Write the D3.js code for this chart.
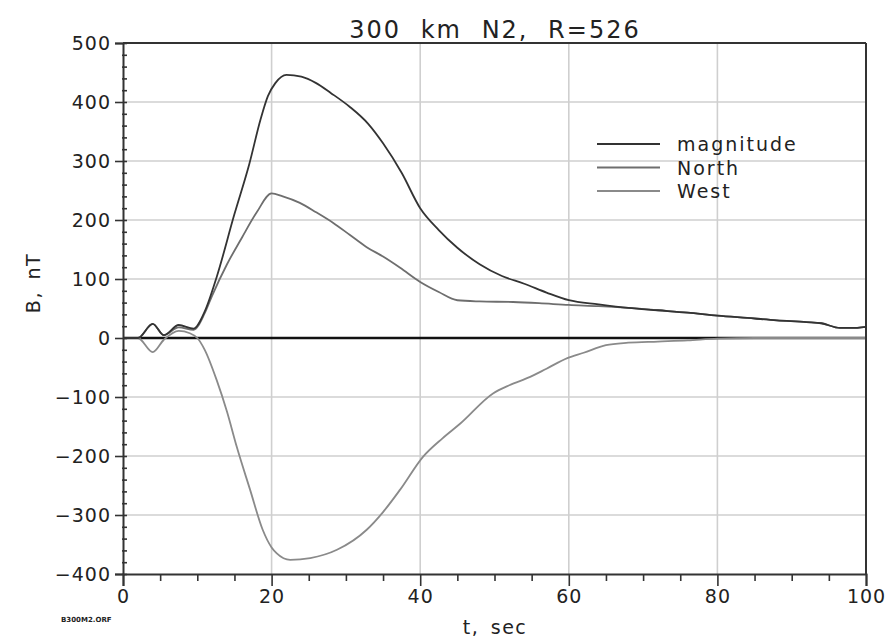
<!DOCTYPE html>
<html>
<head>
<meta charset="utf-8">
<script src="https://cdn.jsdelivr.net/npm/d3@7"></script>
<style>
  body { margin: 0; background: #fff; }
  text { font-family: "DejaVu Sans", sans-serif; fill: #222; }
</style>
</head>
<body>
<script>
var svgWidth = 891;
var svgHeight = 641;

// magnitude
var tMag = [0, 2, 4, 5.5, 7.5, 9.5, 11, 12.6, 15, 17, 18.5, 19.5, 20.5, 22, 24, 26, 28, 30.5, 33, 35, 37.5, 40, 42.5, 45, 48, 51, 54, 57, 60, 64, 68, 72, 76, 80, 84, 88, 92, 94, 96.5, 98, 100];
var magnitude = [0, 0, 24, 5, 22, 16, 45, 103, 210, 295, 370, 410, 432, 446, 443, 432, 415, 392, 363, 330, 280, 220, 183, 153, 125, 105, 92, 77, 64, 57, 51, 47, 43, 38, 34, 30, 27, 25, 17, 17, 19];

var tNorth = [0, 2, 4, 5.5, 7.5, 9.5, 11, 12, 14, 16, 18, 20, 21.5, 23.8, 26, 28.3, 30.5, 32.8, 35, 37.3, 40, 42.5, 45, 48, 52.5, 56, 60, 64, 68, 72, 76, 80, 84, 88, 92, 94, 96.5, 98, 100];
var north = [0, 0, 24, 5, 18, 14, 42, 72, 125, 170, 213, 245, 240, 229, 213, 195, 175, 154, 138, 119, 95, 78, 64, 62, 61, 59, 56, 54, 51, 47, 43, 38, 34, 30, 27, 25, 17, 17, 19];

var tWest = [0, 2, 4, 5.5, 7.5, 9, 10, 11, 12.6, 14, 15.3, 17.1, 18.8, 20, 20.7, 22.5, 25.2, 28.8, 32.8, 35, 37.3, 40.4, 43, 45.4, 49.8, 52, 54.8, 57, 59.8, 62, 65, 68, 72, 76, 80, 85, 100];
var west = [0, 0, -24, -3, 12, 8, 0, -20, -71, -125, -184, -257, -325, -355, -365, -376, -373, -359, -325, -295, -257, -201, -170, -145, -94, -80, -66, -52, -34, -25, -12, -8, -6, -4, -1, 0, 0];

var seriesNames = ["magnitude", "North", "West"];
var seriesColors = ["#333333", "#6e6e6e", "#8a8a8a"];

var xTicks = [0, 20, 40, 60, 80, 100];
var yTicks = [500, 400, 300, 200, 100, 0, -100, -200, -300, -400];

var x = d3.scaleLinear()
    .domain([0, 100])
    .range([123, 866]);

var y = d3.scaleLinear()
    .domain([-400, 500])
    .range([574, 43]);

var svg = d3.select("body")
    .append("svg")
    .attr("width", svgWidth)
    .attr("height", svgHeight);

// grid
svg.append("g")
    .selectAll("line")
    .data(xTicks.slice(1, -1)).enter()
    .append("line")
    .attr("x1", d => x(d)).attr("x2", d => x(d))
    .attr("y1", y(500)).attr("y2", y(-400))
    .attr("stroke", "#cfcfcf")
    .attr("stroke-width", 1.6);

svg.append("g")
    .selectAll("line")
    .data(yTicks.slice(1, -1)).enter()
    .append("line")
    .attr("x1", x(0)).attr("x2", x(100))
    .attr("y1", d => y(d)).attr("y2", d => y(d))
    .attr("stroke", "#cfcfcf")
    .attr("stroke-width", 1.6);

// zero line
svg.append("line")
    .attr("x1", x(0)).attr("x2", x(100))
    .attr("y1", y(0)).attr("y2", y(0))
    .attr("stroke", "#111")
    .attr("stroke-width", 2.6);

// curves
var line = d3.line()
    .x(d => x(d[0]))
    .y(d => y(d[1]))
    .curve(d3.curveMonotoneX);

var curves = [
    d3.zip(tWest, west),
    d3.zip(tNorth, north),
    d3.zip(tMag, magnitude)
];
var curveColors = [seriesColors[2], seriesColors[1], seriesColors[0]];

svg.append("g")
    .selectAll("path")
    .data(curves).enter()
    .append("path")
    .attr("d", line)
    .attr("fill", "none")
    .attr("stroke", (d, i) => curveColors[i])
    .attr("stroke-width", 1.8);

// axes
var xAxis = d3.axisBottom(x)
    .tickValues(xTicks)
    .tickSize(12)
    .tickPadding(4)
    .tickFormat(d3.format("d"));

var xMinor = d3.axisBottom(x)
    .tickValues(d3.range(0, 101, 5).filter(d => d % 20 !== 0))
    .tickSize(7)
    .tickFormat("");

var yAxis = d3.axisLeft(y)
    .tickValues(yTicks)
    .tickSize(8)
    .tickPadding(4)
    .tickFormat(d3.format("d"));

var yMinor = d3.axisLeft(y)
    .tickValues(d3.range(-400, 501, 20).filter(d => d % 100 !== 0))
    .tickSize(5)
    .tickFormat("");

var gx = svg.append("g").attr("transform", "translate(0," + y(-400) + ")").call(xAxis);
svg.append("g").attr("transform", "translate(0," + y(-400) + ")").call(xMinor)
    .call(g => g.select(".domain").remove());
var gy = svg.append("g").attr("transform", "translate(" + x(0) + ",0)").call(yAxis);
svg.append("g").attr("transform", "translate(" + (x(0) + 4) + ",0)").call(yMinor)
    .call(g => g.select(".domain").remove());

svg.selectAll(".domain").attr("stroke", "#333").attr("stroke-width", 2);
svg.selectAll(".tick line").attr("stroke", "#333").attr("stroke-width", 1.6);
gx.selectAll("text").style("font-size", "19px").attr("fill", "#222").attr("letter-spacing", 1);
gy.selectAll("text").style("font-size", "19px").attr("fill", "#222").attr("letter-spacing", 1);
gy.selectAll(".tick line").attr("x2", 4).attr("x1", -8);

// frame top and right
svg.append("line")
    .attr("x1", x(0)).attr("x2", x(100))
    .attr("y1", y(500)).attr("y2", y(500))
    .attr("stroke", "#333").attr("stroke-width", 2);
svg.append("line")
    .attr("x1", x(100)).attr("x2", x(100))
    .attr("y1", y(500)).attr("y2", y(-400))
    .attr("stroke", "#333").attr("stroke-width", 2);

// title and labels
svg.append("text")
    .attr("x", 495).attr("y", 38)
    .attr("text-anchor", "middle")
    .style("font-size", "24px")
    .attr("letter-spacing", 2)
    .attr("word-spacing", 10)
    .text("300 km N2, R=526");

svg.append("text")
    .attr("x", 495).attr("y", 634)
    .attr("text-anchor", "middle")
    .style("font-size", "19px")
    .attr("letter-spacing", 1.5)
    .attr("word-spacing", 4)
    .text("t, sec");

svg.append("text")
    .attr("transform", "translate(40,283) rotate(-90)")
    .attr("text-anchor", "middle")
    .style("font-size", "19px")
    .attr("letter-spacing", 1.5)
    .attr("word-spacing", 4)
    .text("B, nT");

svg.append("text")
    .attr("x", 61).attr("y", 622)
    .style("font-size", "7px")
    .style("font-weight", "bold")
    .text("B300M2.ORF");

// legend
var legend = svg.append("g")
    .selectAll("g")
    .data(seriesNames).enter()
    .append("g")
    .attr("transform", (d, i) => "translate(597," + (144 + i * 23.5) + ")");

legend.append("line")
    .attr("x1", 0).attr("x2", 63)
    .attr("stroke", (d, i) => seriesColors[i])
    .attr("stroke-width", 1.8);

legend.append("text")
    .attr("x", 80).attr("y", 7)
    .style("font-size", "19px")
    .attr("letter-spacing", 2)
    .text(d => d);
</script>
</body>
</html>
